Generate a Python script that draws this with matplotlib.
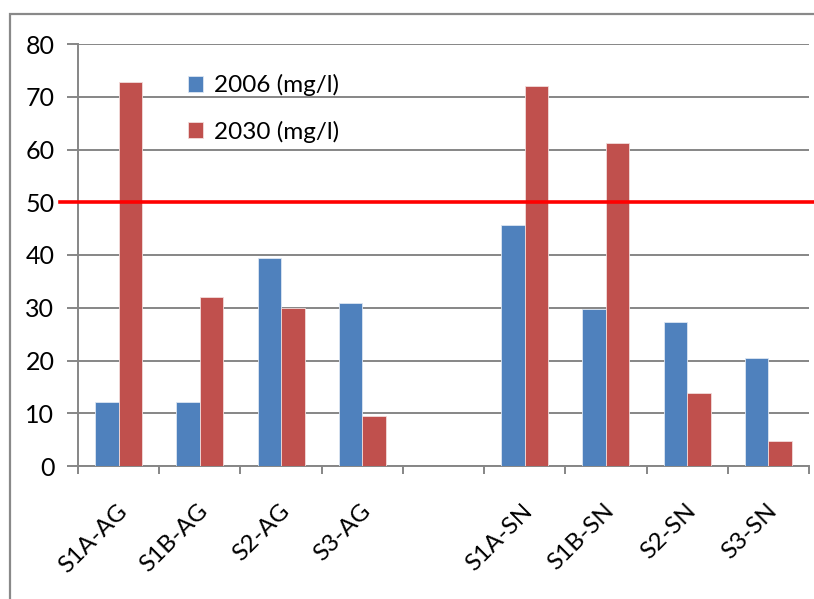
import numpy as np
import matplotlib.pyplot as plt
from matplotlib.patches import Rectangle

# Chart data
categories = ["S1A-AG", "S1B-AG", "S2-AG", "S3-AG", "", "S1A-SN", "S1B-SN", "S2-SN", "S3-SN"]
values_2006 = [12.2, 12.2, 39.4, 30.9, np.nan, 45.7, 29.8, 27.3, 20.4]
values_2030 = [72.8, 32.0, 30.0, 9.5, np.nan, 72.0, 61.2, 13.8, 4.8]
series_labels = ["2006 (mg/l)", "2030 (mg/l)"]
limit_value = 50

plt.rcParams["font.family"] = ["Lato", "DejaVu Sans"]

W, H = 814, 599
fig = plt.figure(figsize=(W / 100, H / 100), dpi=100)

# Axes placed in pixel terms
left, right, top, bottom = 78, 809, 44, 466
ax = fig.add_axes([left / W, 1 - bottom / H, (right - left) / W, (bottom - top) / H])

grid_color = "#868686"
x = np.arange(len(categories))
bar_w = 0.29

ax.bar(x - bar_w / 2, values_2006, width=bar_w, color="#4F81BD",
       edgecolor="#dce6f2", linewidth=0.6, label=series_labels[0], zorder=3)
ax.bar(x + bar_w / 2, values_2030, width=bar_w, color="#C0504D",
       edgecolor="#f2dcdb", linewidth=0.6, label=series_labels[1], zorder=3)

# Red threshold line, running past the plot area
ax.axhline(limit_value, xmin=(60 - left) / (right - left), xmax=(W - left) / (right - left),
           color="#FF0000", linewidth=2.6, clip_on=False, zorder=4)

ax.set_xlim(-0.5, len(categories) - 0.5)
ax.set_ylim(0, 80)
ax.set_yticks(range(0, 81, 10))
ax.yaxis.grid(True, color=grid_color, linewidth=1.4, zorder=0)
ax.set_axisbelow(True)

for s in ["top", "right"]:
    ax.spines[s].set_visible(False)
for s in ["left", "bottom"]:
    ax.spines[s].set_color(grid_color)
    ax.spines[s].set_linewidth(1.4)

# Category tick marks sit on the boundaries between slots
ax.set_xticks(np.arange(len(categories) + 1) - 0.5)
ax.set_xticklabels([])
ax.tick_params(axis="x", length=6, width=1.4, color=grid_color, direction="out")
ax.tick_params(axis="y", length=8, width=1.4, color=grid_color, labelsize=18, pad=9)

for i, name in enumerate(categories):
    if name:
        ax.text(i - 0.03, -6.5, name, rotation=45, ha="right", va="top",
                rotation_mode="anchor", fontsize=17.5, transform=ax.transData)

ax.legend(loc="upper left", bbox_to_anchor=(0.12, 0.98), frameon=False,
          fontsize=17.5, handlelength=0.65, handleheight=0.65,
          labelspacing=1.0, handletextpad=0.45)

# Outer chart border (cut off at right and bottom)
fig.patches.append(Rectangle((10 / W, -0.1), 1.0, 1.1 - 14 / H, transform=fig.transFigure,
                             fill=False, edgecolor="#898989", linewidth=1.6))

fig.savefig("out.png", dpi=100)
